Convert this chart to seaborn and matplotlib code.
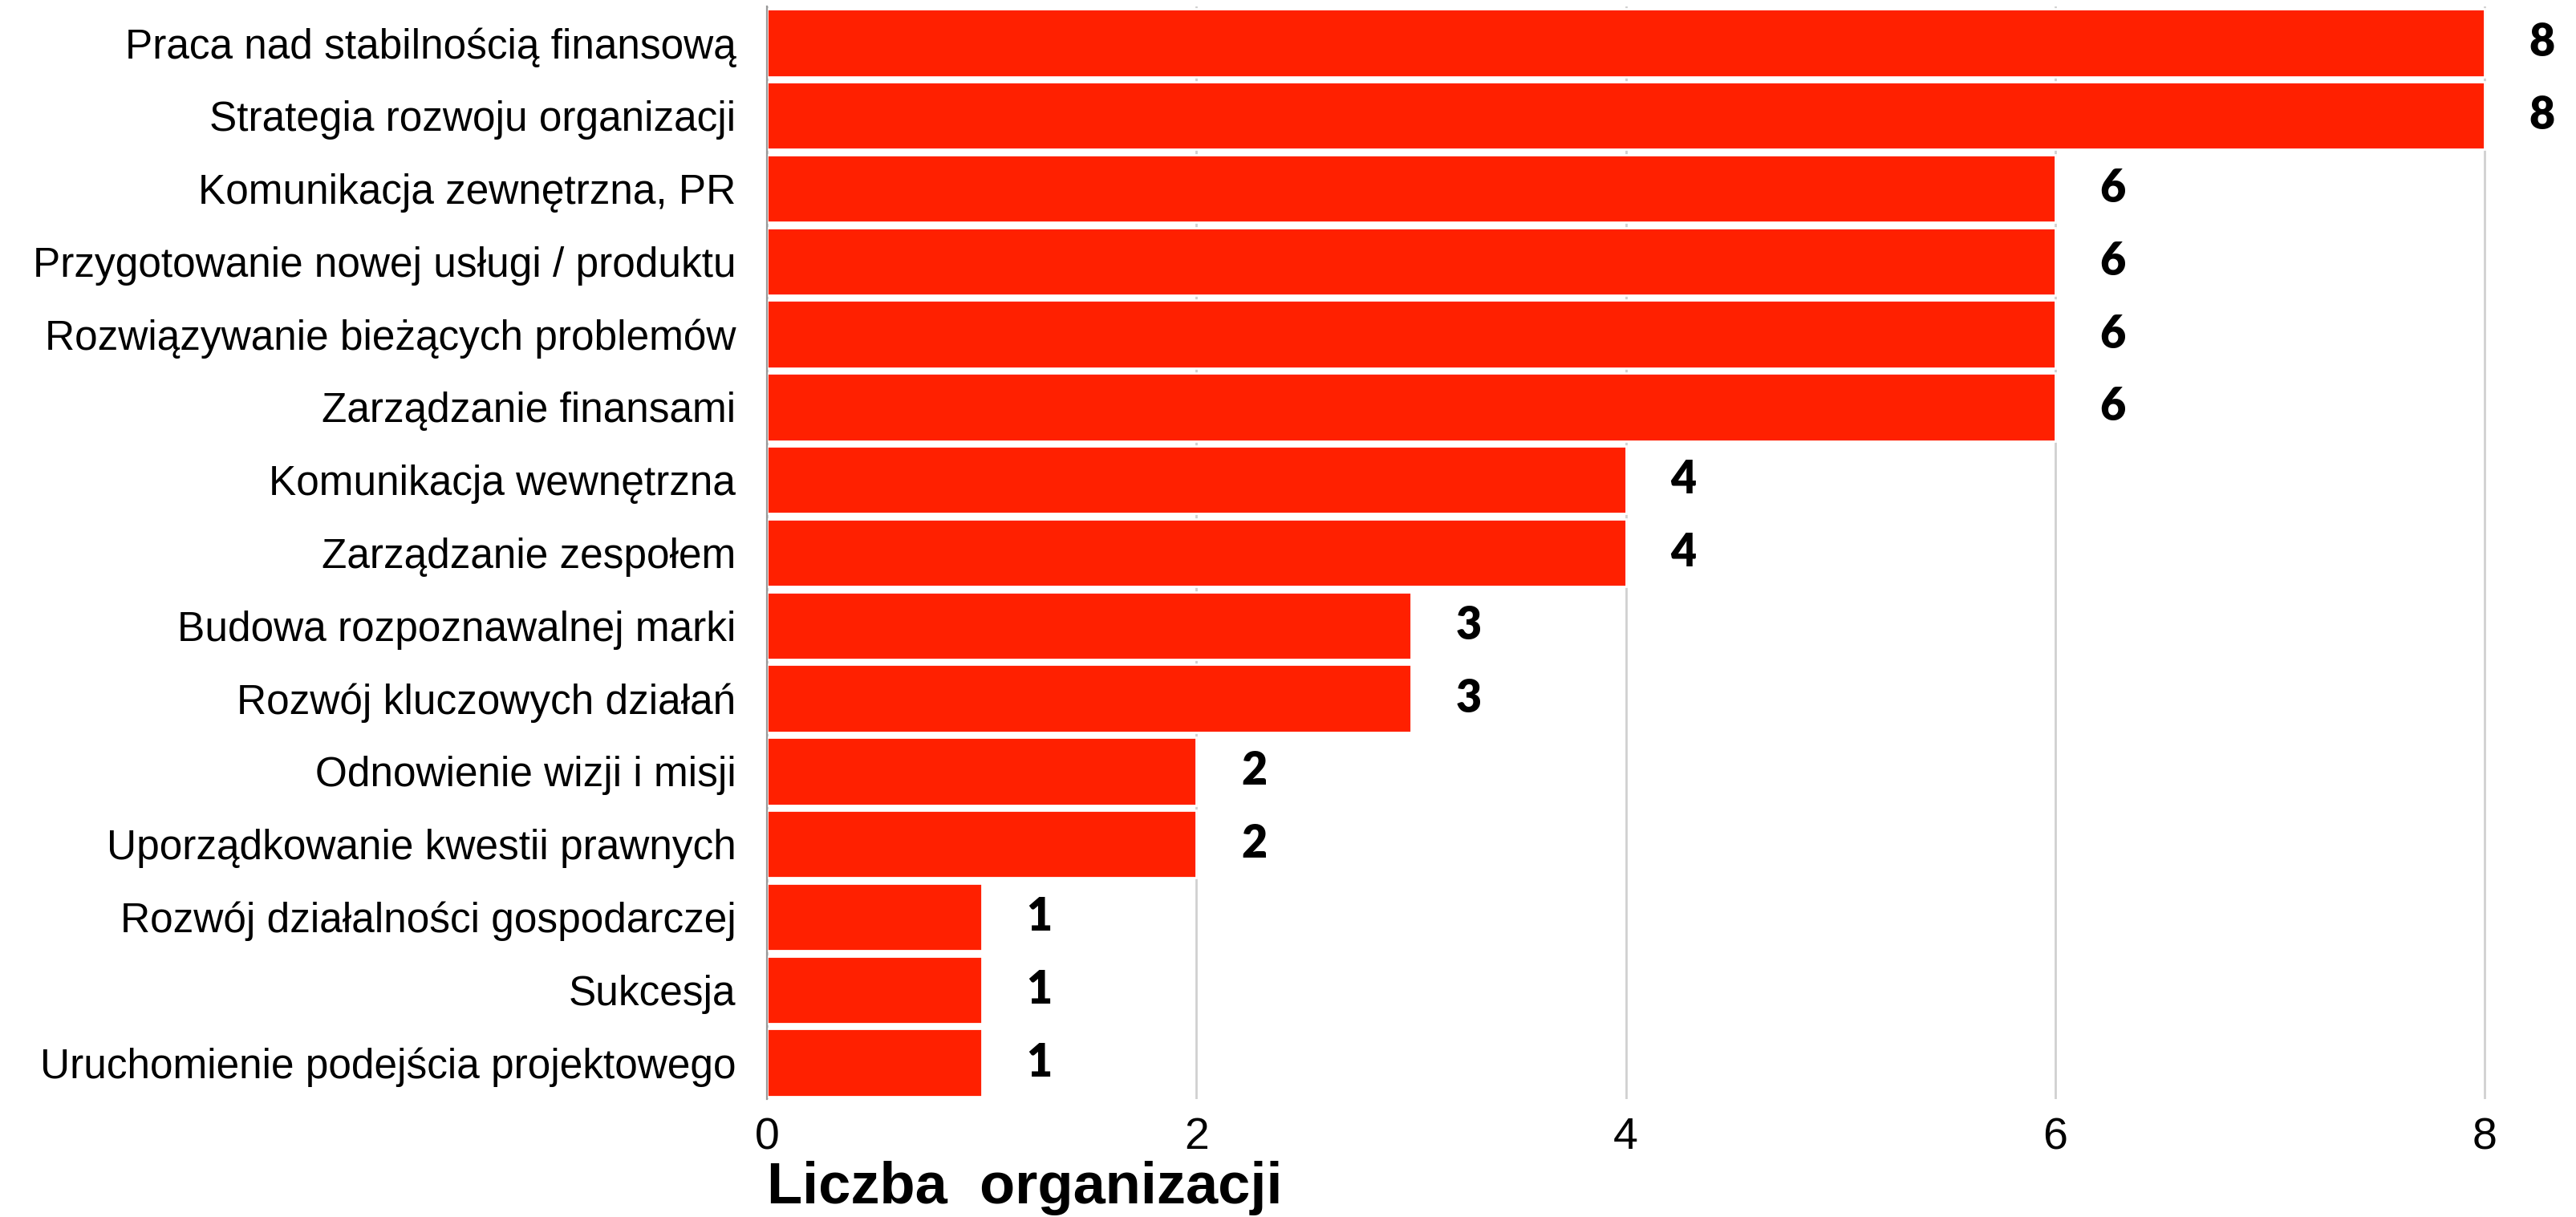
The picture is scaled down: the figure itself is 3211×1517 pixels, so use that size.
import pandas as pd
import matplotlib.pyplot as plt
import seaborn as sns

# dane
categories = [
    "Praca nad stabilnością finansową",
    "Strategia rozwoju organizacji",
    "Komunikacja zewnętrzna, PR",
    "Przygotowanie nowej usługi / produktu",
    "Rozwiązywanie bieżących problemów",
    "Zarządzanie finansami",
    "Komunikacja wewnętrzna",
    "Zarządzanie zespołem",
    "Budowa rozpoznawalnej marki",
    "Rozwój kluczowych działań",
    "Odnowienie wizji i misji",
    "Uporządkowanie kwestii prawnych",
    "Rozwój działalności gospodarczej",
    "Sukcesja",
    "Uruchomienie podejścia projektowego",
]
counts = [8, 8, 6, 6, 6, 6, 4, 4, 3, 3, 2, 2, 1, 1, 1]
x_ticks = [0, 2, 4, 6, 8]

df = pd.DataFrame({"Obszar": categories, "Liczba": counts})

sns.set_style("white")
plt.rcParams['font.family'] = ['Liberation Sans', 'DejaVu Sans']
plt.rcParams['text.color'] = 'black'
plt.rcParams['xtick.color'] = 'black'
plt.rcParams['ytick.color'] = 'black'
plt.rcParams['axes.labelcolor'] = 'black'

fig = plt.figure(figsize=(16.06, 7.585), dpi=200)
ax = fig.add_axes([0.2977, 0.0969, 0.6831, 0.8978])

sns.barplot(data=df, x="Liczba", y="Obszar", color="#ff2000", saturation=1,
            width=0.93, orient="h", ax=ax, zorder=2)

ax.set_xlim(0, 8.2)
ax.set_xticks(x_ticks)
ax.grid(axis="x", color="#d0d0d0", linewidth=1.0, zorder=0)
ax.grid(axis="y", visible=False)
ax.set_axisbelow(True)

for s in ["top", "right", "bottom"]:
    ax.spines[s].set_visible(False)
ax.spines["left"].set_color("#999999")
ax.spines["left"].set_linewidth(0.8)

ax.tick_params(axis="y", length=0, pad=14, labelsize=18.5)
ax.tick_params(axis="x", length=0, pad=8, labelsize=20)
ax.set_ylabel("")
ax.set_xlabel("Liczba  organizacji", loc="left", fontsize=26, fontweight="bold",
              family=["Liberation Sans Narrow", "Liberation Sans"], labelpad=1)

ax.bar_label(ax.containers[0], padding=20, fontsize=20, fontweight="heavy",
             family=["Lato", "DejaVu Sans"], color="black", clip_on=False)

plt.savefig("out.png", dpi=200)
